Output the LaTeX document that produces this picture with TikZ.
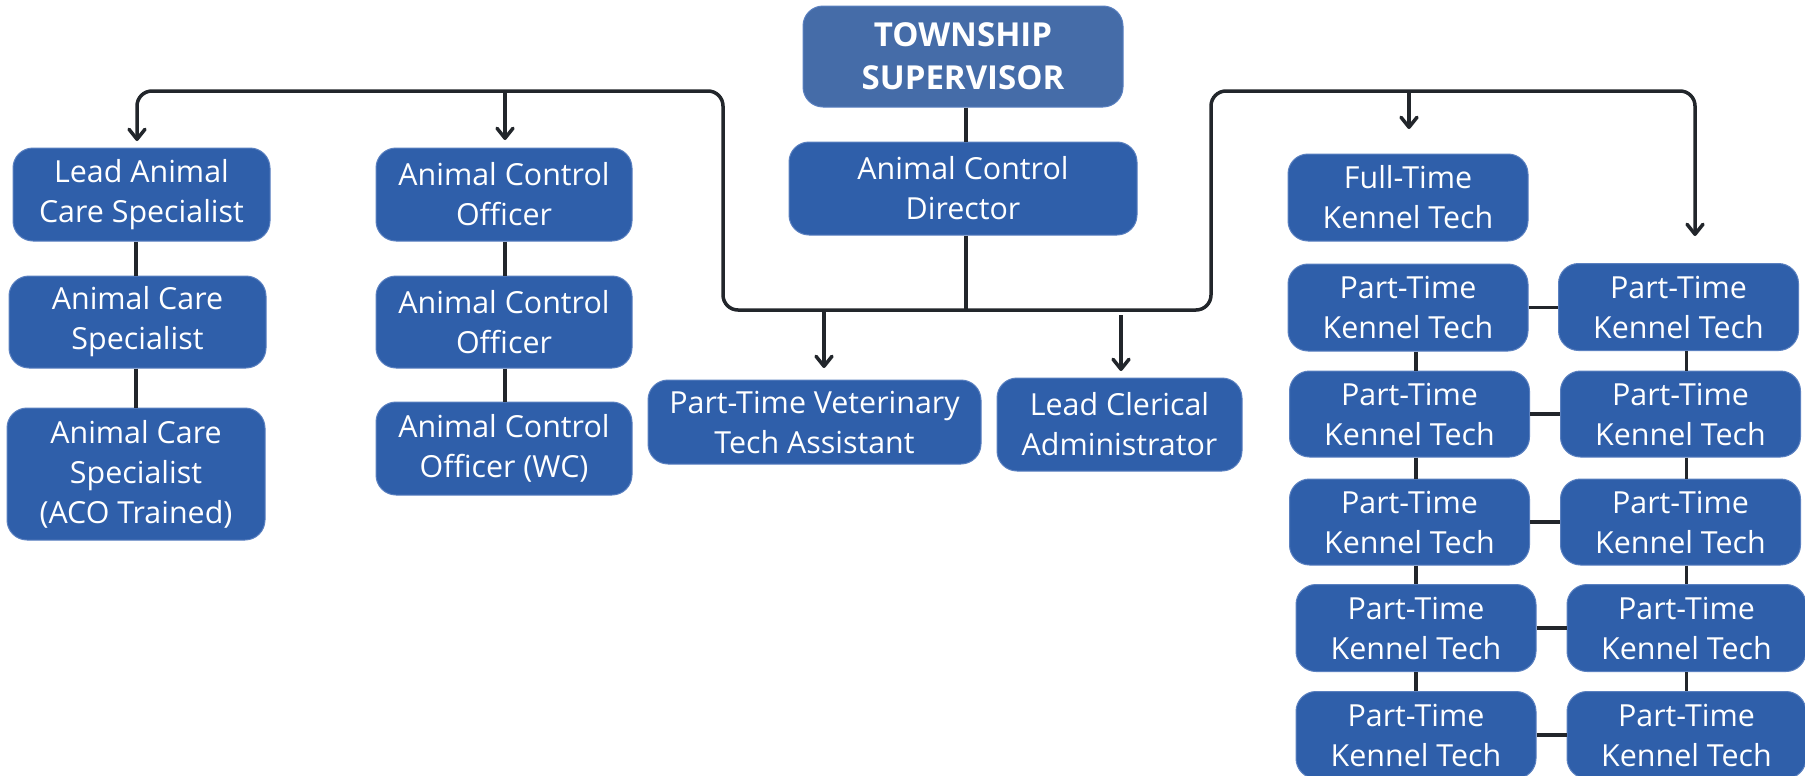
\documentclass[tikz,border=0pt]{standalone}
\usepackage{fontspec}
\setmainfont{Open Sans}
\usetikzlibrary{arrows.meta}
\definecolor{boxblue}{HTML}{2F5FAA}
\definecolor{topblue}{HTML}{456CA8}
\definecolor{edgeblue}{HTML}{5A80C0}
\definecolor{linec}{HTML}{22262B}
\begin{document}
\begin{tikzpicture}[x=0.5pt,y=-0.5pt,
  box/.style={draw=edgeblue, line width=0.5pt, fill=boxblue, rounded corners=10pt,
    text=white, align=center, inner sep=0pt, font=\fontsize{15.2}{20}\selectfont},
  topbox/.style={box, fill=topblue, font=\bfseries\fontsize{16.5}{21.5}\selectfont},
  kbox/.style={box, minimum width=120pt, minimum height=43.5pt},
  conn/.style={draw=linec, line width=1.75pt},
  arr/.style={-{Straight Barb[length=5pt,width=8pt,round]}},
  arrs/.style={{Straight Barb[length=5pt,width=8pt,round]}-{Straight Barb[length=5pt,width=8pt,round]}}]
\useasboundingbox (0,0) rectangle (1805,776);
\fill[white] (0,0) rectangle (1805,776);

% nodes
\node[topbox, minimum width=160pt, minimum height=50.5pt] (ts) at (963,56.5) {TOWNSHIP\\SUPERVISOR};
\node[box, minimum width=174pt, minimum height=46.5pt] (acd) at (963,188.5) {Animal Control\\Director};

\node[box, minimum width=128.5pt, minimum height=46.5pt] (lacs) at (141.5,194.5) {Lead Animal\\Care Specialist};
\node[box, minimum width=128.5pt, minimum height=46pt] (acs) at (137.5,322) {Animal Care\\Specialist};
\node[box, minimum width=129pt, minimum height=66pt] (acst) at (136,474) {Animal Care\\Specialist\\(ACO Trained)};

\node[box, minimum width=128pt, minimum height=46.5pt] (aco1) at (504,194.5) {Animal Control\\Officer};
\node[box, minimum width=128pt, minimum height=46pt] (aco2) at (504,322) {Animal Control\\Officer};
\node[box, minimum width=128pt, minimum height=46.5pt] (acowc) at (504,448.5) {Animal Control\\Officer (WC)};

\node[box, minimum width=166.5pt, minimum height=42pt] (ptvet) at (814.5,422) {Part-Time Veterinary\\Tech Assistant};
\node[box, minimum width=122.5pt, minimum height=46.5pt] (lca) at (1119.5,424.5) {Lead Clerical\\Administrator};

\node[kbox] (ft) at (1408,197.5) {Full-Time\\Kennel Tech};
\node[kbox] (r1l) at (1408,307.5) {Part-Time\\Kennel Tech};
\node[kbox] (r1r) at (1678.5,307) {Part-Time\\Kennel Tech};
\node[kbox, minimum height=43pt] (r2l) at (1409.5,414) {Part-Time\\Kennel Tech};
\node[kbox, minimum height=43pt] (r2r) at (1680.5,414) {Part-Time\\Kennel Tech};
\node[kbox, minimum height=43pt] (r3l) at (1409.5,522) {Part-Time\\Kennel Tech};
\node[kbox, minimum height=43pt] (r3r) at (1680.5,522) {Part-Time\\Kennel Tech};
\node[kbox] (r4l) at (1416,628) {Part-Time\\Kennel Tech};
\node[kbox, minimum width=119.5pt] (r4r) at (1686.5,628) {Part-Time\\Kennel Tech};
\node[kbox] (r5l) at (1416,735) {Part-Time\\Kennel Tech};
\node[kbox, minimum width=119.5pt] (r5r) at (1686.5,735) {Part-Time\\Kennel Tech};

% bus coordinates
\coordinate (hub) at (966,310);
\coordinate (aL) at (137,141);
\coordinate (cTL) at (723,91);
\coordinate (cBR) at (1211,310);
\coordinate (cTR) at (1695,91);
\coordinate (aR) at (1695,236);
\coordinate (b1) at (505,91);
\coordinate (b1t) at (505,140);
\coordinate (b2) at (1409,91);
\coordinate (b2t) at (1409,129);
\coordinate (b3) at (824,310);
\coordinate (b3t) at (824,368);
\coordinate (b4) at (1121,315);
\coordinate (b4t) at (1121,371);

% connectors
\draw[conn] (ts.south -| hub) -- (acd.north -| hub);
\draw[conn] (acd.south -| hub) -- (hub);
\draw[conn, arrs, rounded corners=7.5pt] (aL) |- (cTL) |- (cBR) |- (cTR) -- (aR);
\draw[conn, arr] (b1) -- (b1t);
\draw[conn, arr] (b2) -- (b2t);
\draw[conn, arr] (b3) -- (b3t);
\draw[conn, arr] (b4) -- (b4t);

\draw[conn] (lacs.south -| acst) -- (acs.north -| acst);
\draw[conn] (acs.south -| acst) -- (acst.north);
\draw[conn] (aco1.south -| b1) -- (aco2.north -| b1);
\draw[conn] (aco2.south -| b1) -- (acowc.north -| b1);

\foreach \r in {1,...,5}{\draw[conn] (r\r l.east) -- (r\r l.east -| r\r r.west);}
\draw[conn] (r1l.south -| r4l) -- (r2l.north -| r4l);
\draw[conn] (r2l.south -| r4l) -- (r3l.north -| r4l);
\draw[conn] (r3l.south -| r4l) -- (r4l.north);
\draw[conn] (r4l.south) -- (r5l.north);
\draw[conn] (r1r.south -| r4r) -- (r2r.north -| r4r);
\draw[conn] (r2r.south -| r4r) -- (r3r.north -| r4r);
\draw[conn] (r3r.south -| r4r) -- (r4r.north);
\draw[conn] (r4r.south) -- (r5r.north);
\end{tikzpicture}
\end{document}
